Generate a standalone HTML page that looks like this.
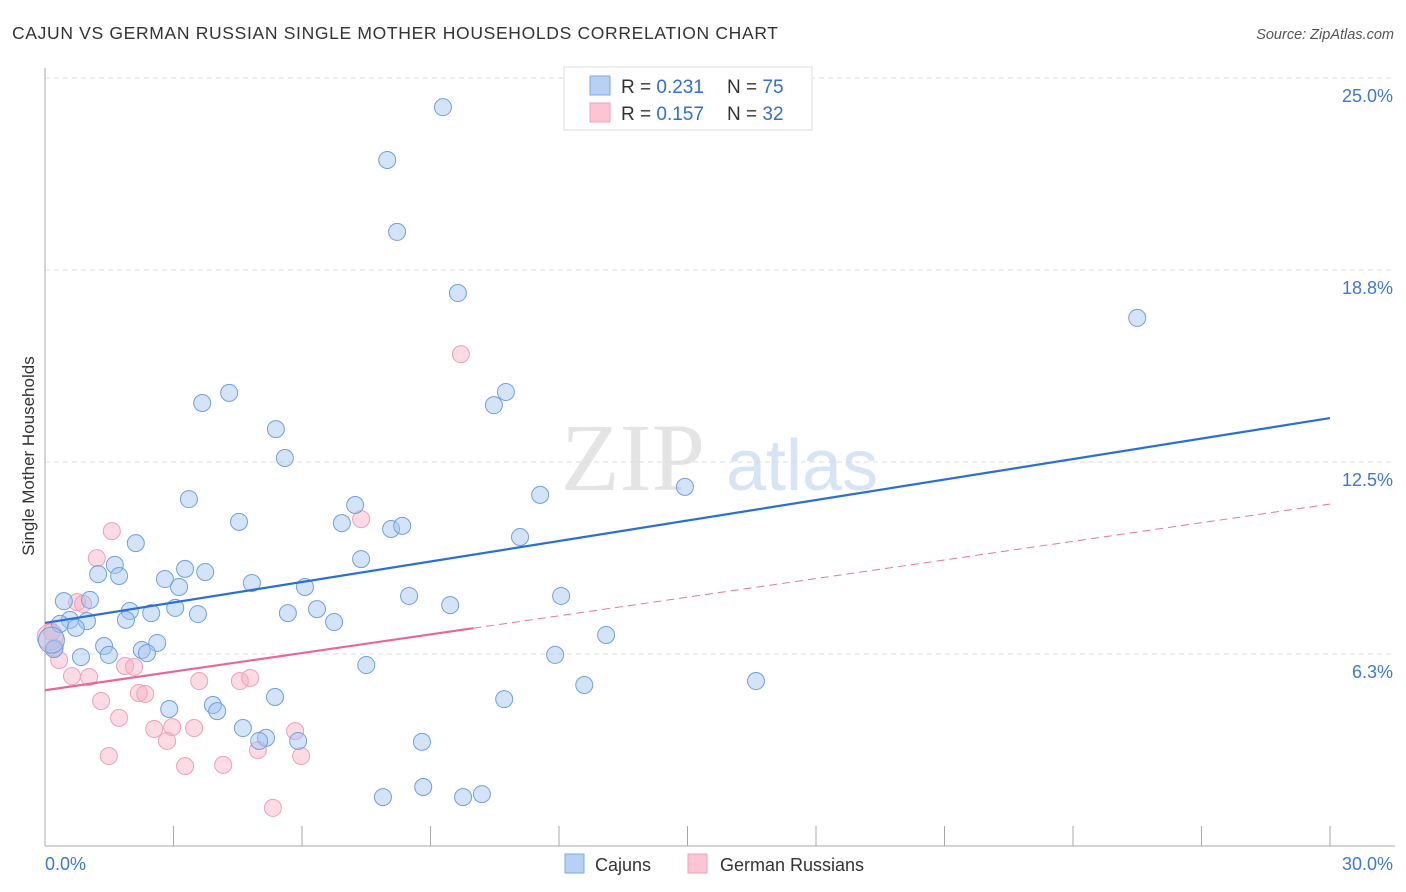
<!DOCTYPE html>
<html><head><meta charset="utf-8"><style>
body{margin:0;background:#fff;font-family:"Liberation Sans",sans-serif;}
svg{display:block}
</style></head><body>
<svg id="chart" width="1406" height="892" viewBox="0 0 1406 892">
<text x="12" y="39" font-size="17.5" fill="#333" textLength="766">CAJUN VS GERMAN RUSSIAN SINGLE MOTHER HOUSEHOLDS CORRELATION CHART</text>
<text x="1394" y="39" font-size="14.5" fill="#555" text-anchor="end" font-style="italic">Source: ZipAtlas.com</text>
<g>
<text x="633" y="490" font-size="96" fill="#e4e4e4" text-anchor="middle" font-family="Liberation Serif,serif">ZIP</text>
<text x="802" y="490" font-size="72" fill="#d6e4f5" text-anchor="middle">atlas</text>
</g>
<text transform="translate(34,456) rotate(-90)" font-size="17" fill="#333" text-anchor="middle">Single Mother Households</text>
<g id="grid"></g>
<g id="axes"></g>
<g id="marks"></g>
<g>
<rect x="564" y="67" width="248" height="63" fill="#fff" stroke="#ddd"/>
<rect x="590" y="76" width="20" height="19" fill="#b6d1f3" stroke="#7ea9e0"/>
<rect x="590" y="103" width="20" height="19" fill="#fdc5d3" stroke="#f0a0b8"/>
<text x="621" y="93" font-size="19" fill="#333">R = <tspan fill="#2f6fd1">0.231</tspan></text>
<text x="727" y="93" font-size="19" fill="#333">N = <tspan fill="#2f6fd1">75</tspan></text>
<text x="621" y="120" font-size="19" fill="#333">R = <tspan fill="#2f6fd1">0.157</tspan></text>
<text x="727" y="120" font-size="19" fill="#333">N = <tspan fill="#2f6fd1">32</tspan></text>
</g>
<g>
<rect x="565" y="854" width="19" height="19" fill="#b6d1f3" stroke="#7ea9e0"/>
<text x="595" y="871" font-size="18" fill="#333">Cajuns</text>
<rect x="688" y="854" width="19" height="19" fill="#fdc5d3" stroke="#f0a0b8"/>
<text x="720" y="871" font-size="18" fill="#333">German Russians</text>
</g>
</svg>
<script>
const yTicks=[6.25,12.5,18.75,25];
const yTickLabels=["6.3%","12.5%","18.8%","25.0%"];
const xTickCount=10;
const cajunX=[9.29,7.99,8.22,9.64,25.5,4.30,3.67,10.76,10.48,5.39,5.60,14.94,11.56,3.36,7.24,4.53,6.93,8.08,8.34,11.09,2.12,1.63,7.38,1.24,1.73,3.27,3.74,2.80,4.83,3.13,6.07,8.50,12.05,9.46,0.44,1.05,1.98,2.48,3.04,3.57,5.67,6.35,1.89,0.58,0.98,6.75,0.35,0.72,13.1,2.62,1.38,0.21,2.26,2.38,1.49,0.84,11.91,7.50,16.6,12.59,5.37,10.72,3.92,2.90,4.02,4.62,5.16,5.00,5.91,8.80,8.83,7.89,9.76,10.20,0.15];
const cajunY=[24.05,22.33,19.99,18.0,17.19,14.75,14.42,14.78,14.35,13.57,12.63,11.69,11.43,11.29,11.10,10.55,10.51,10.32,10.42,10.06,9.86,9.15,9.34,8.85,8.79,9.02,8.92,8.69,8.56,8.43,8.43,8.14,8.14,7.84,7.97,8.01,7.65,7.58,7.75,7.55,7.58,7.71,7.36,7.36,7.32,7.29,7.23,7.10,6.87,6.61,6.51,6.41,6.38,6.28,6.22,6.15,6.22,5.89,5.37,5.24,4.85,4.78,4.59,4.46,4.39,3.84,3.52,3.42,3.42,3.39,1.92,1.59,1.59,1.69,6.7];
const grX=[9.71,7.38,1.56,1.21,0.75,0.89,0.16,0.23,0.33,1.87,2.08,0.63,1.03,3.60,4.55,4.79,2.19,2.34,1.31,1.73,2.55,2.97,3.48,2.85,5.84,4.97,1.49,5.98,3.27,4.16,5.32,0.12];
const grY=[16.01,10.64,10.25,9.37,7.94,7.88,6.97,6.45,6.05,5.86,5.83,5.53,5.50,5.37,5.37,5.47,4.98,4.95,4.72,4.17,3.81,3.87,3.84,3.42,3.74,3.12,2.93,2.93,2.60,2.64,1.24,6.8];
const cajunLine=[7.26,13.93];
const grLine=[5.07,11.13];
const grSolidEnd=10;
const NS='http://www.w3.org/2000/svg';
const X=v=>45+v/30*1285, Y=v=>846-v*30.72;
function mk(t,a,p){const e=document.createElementNS(NS,t);for(const k in a)e.setAttribute(k,a[k]);p.appendChild(e);return e;}
const gridG=document.getElementById('grid'),axesG=document.getElementById('axes'),marksG=document.getElementById('marks');
yTicks.forEach((t,i)=>{
 const l=mk('line',{x1:45,x2:1395,y1:Y(t),y2:Y(t),stroke:'#ddd','stroke-dasharray':'5,4'},gridG);
 
 
 const tx=mk('text',{x:1393,y:Y(t)+24,'font-size':18,fill:'#3b78d8','text-anchor':'end'},axesG);
 tx.textContent=yTickLabels[i];
 
 
});
const ya=mk('line',{x1:45,x2:45,y1:68,y2:846,stroke:'#aaa'},axesG);


const xa=mk('line',{x1:45,x2:1395,y1:846,y2:846,stroke:'#aaa'},axesG);


for(let i=1;i<=xTickCount;i++){
 const t=mk('line',{x1:X(i*3),x2:X(i*3),y1:826,y2:846,stroke:'#aaa'},axesG);
 
 
}
const xl0=mk('text',{x:45,y:870,'font-size':18,fill:'#3b78d8'},axesG);xl0.textContent='0.0%';


const xl1=mk('text',{x:1393,y:870,'font-size':18,fill:'#3b78d8','text-anchor':'end'},axesG);xl1.textContent='30.0%';


grX.forEach((v,i)=>{
 const c=mk('circle',{cx:X(v),cy:Y(grY[i]),r:i==grX.length-1?13:8.5,fill:'rgba(248,175,197,0.45)',stroke:'#efa0b8','stroke-width':1},marksG);
 
 
});
cajunX.forEach((v,i)=>{
 const c=mk('circle',{cx:X(v),cy:Y(cajunY[i]),r:i==cajunX.length-1?13:8.5,fill:'rgba(160,196,240,0.45)',stroke:'#6fa0de','stroke-width':1},marksG);
 
 
});
const gy=x=>grLine[0]+(grLine[1]-grLine[0])*x/30;
const gd=mk('line',{x1:X(grSolidEnd),y1:Y(gy(grSolidEnd)),x2:X(30),y2:Y(gy(30)),stroke:'#e8779c','stroke-width':1,'stroke-dasharray':'8,5'},marksG);


const gs=mk('line',{x1:X(0),y1:Y(gy(0)),x2:X(grSolidEnd),y2:Y(gy(grSolidEnd)),stroke:'#e8679a','stroke-width':2.2},marksG);


const cl=mk('line',{x1:X(0),y1:Y(cajunLine[0]),x2:X(30),y2:Y(cajunLine[1]),stroke:'#2a6fd6','stroke-width':2.2},marksG);


</script>
</body></html>
